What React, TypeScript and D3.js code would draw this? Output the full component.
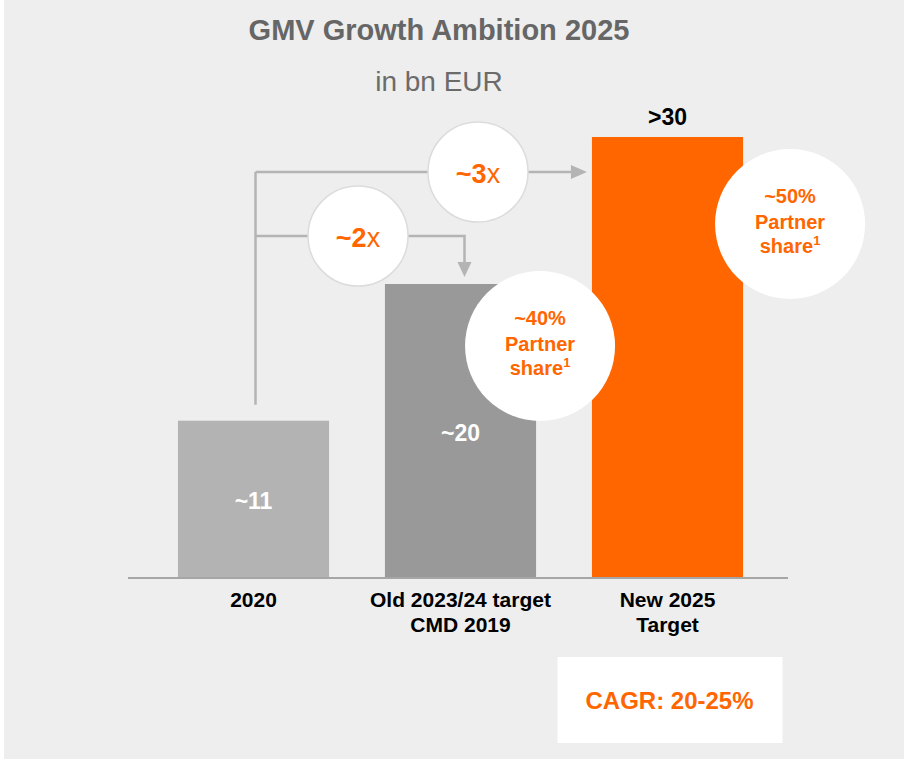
import { useEffect, useRef } from 'react'
import * as d3 from 'd3'

// GMV in bn EUR
const categoryLines = [['2020'], ['Old 2023/24 target', 'CMD 2019'], ['New 2025', 'Target']]
const gmvValues = [10.7, 20, 30]
const valueLabels = ['~11', '~20', '>30']
const partnerShares = [null, '~40%', '~50%']
const multiples = [
  { from: 0, to: 1, label: '~2' },
  { from: 0, to: 2, label: '~3' }
]
const cagrLabel = 'CAGR: 20-25%'

const ORANGE = '#ff6600'
const barColors = ['#b3b3b3', '#999999', ORANGE]
const FONT = '"Liberation Sans", Arial, sans-serif'

const App = () => {
  const svgRef = useRef<SVGSVGElement>(null)

  useEffect(() => {
    if (!svgRef.current) return
    const width = 904
    const height = 760

    d3.select(svgRef.current).selectAll('*').remove()
    const svg = d3.select(svgRef.current)
      .attr('width', width)
      .attr('height', height)
      .style('font-family', FONT)

    // background (thin white strip on the left edge)
    svg.append('rect').attr('width', width).attr('height', height).attr('fill', '#ffffff')
    svg.append('rect').attr('x', 4).attr('width', width - 4).attr('height', height - 1).attr('fill', '#eeeeee')

    const x = d3.scaleBand<number>()
      .domain(d3.range(gmvValues.length))
      .range([150, 771])
      .paddingInner(0.27)
      .paddingOuter(0.135)

    const y = d3.scaleLinear()
      .domain([0, 30])
      .range([578, 137])

    const bw = x.bandwidth()
    const cx = (i: number) => (x(i) as number) + bw / 2

    // title
    svg.append('text')
      .attr('x', 439).attr('y', 40)
      .attr('text-anchor', 'middle')
      .attr('font-size', 29).attr('font-weight', 'bold')
      .attr('fill', '#666666')
      .text('GMV Growth Ambition 2025')
    svg.append('text')
      .attr('x', 439).attr('y', 91)
      .attr('text-anchor', 'middle')
      .attr('font-size', 28)
      .attr('fill', '#6b6b6b')
      .text('in bn EUR')

    // bars
    svg.selectAll('.bar')
      .data(gmvValues)
      .enter()
      .append('rect')
      .attr('class', 'bar')
      .attr('x', (d, i) => x(i) as number)
      .attr('y', d => y(d))
      .attr('width', bw)
      .attr('height', d => y(0) - y(d))
      .attr('fill', (d, i) => barColors[i])

    // baseline
    svg.append('line')
      .attr('x1', 128).attr('x2', 788)
      .attr('y1', y(0)).attr('y2', y(0))
      .attr('stroke', '#a6a6a6').attr('stroke-width', 2)

    // growth connectors
    const lineColor = '#b4b4b4'
    const startX = cx(0) + 2
    const levels = [236, 172]
    const conn = svg.append('g')
      .attr('fill', 'none').attr('stroke', lineColor).attr('stroke-width', 2.5)

    conn.append('line')
      .attr('x1', startX).attr('x2', startX)
      .attr('y1', levels[1]).attr('y2', y(gmvValues[0]) - 16)

    multiples.forEach((m, k) => {
      const ly = levels[k]
      if (m.to === 1) {
        const ex = cx(m.to) + 4
        const tipY = y(gmvValues[m.to]) - 7
        conn.append('path').attr('d', `M${startX},${ly}H${ex}V${tipY - 14}`)
        svg.append('path')
          .attr('d', `M${ex - 7},${tipY - 15}L${ex + 7},${tipY - 15}L${ex},${tipY}Z`)
          .attr('fill', lineColor)
      } else {
        const tipX = (x(m.to) as number) - 5
        conn.append('path').attr('d', `M${startX},${ly}H${tipX - 14}`)
        svg.append('path')
          .attr('d', `M${tipX - 16},${ly - 7}L${tipX - 16},${ly + 7}L${tipX},${ly}Z`)
          .attr('fill', lineColor)
      }
    })

    const multCenters = [358, 478]
    multiples.forEach((m, k) => {
      const mx = multCenters[k]
      const my = levels[k]
      svg.append('circle')
        .attr('cx', mx).attr('cy', my).attr('r', 50)
        .attr('fill', '#ffffff').attr('stroke', '#dcdcdc').attr('stroke-width', 1.5)
      const t = svg.append('text')
        .attr('x', mx).attr('y', my + 11)
        .attr('text-anchor', 'middle')
        .attr('font-size', 27)
        .attr('fill', ORANGE)
      t.append('tspan').attr('font-weight', 'bold').text(m.label)
      t.append('tspan').text('x')
    })

    // partner share bubbles
    const shareOffsets = [null, { dx: 4, dy: 62 }, { dx: 47, dy: 87 }]
    partnerShares.forEach((s, i) => {
      if (!s) return
      const off = shareOffsets[i] as { dx: number, dy: number }
      const bx = (x(i) as number) + bw + off.dx
      const by = y(gmvValues[i]) + off.dy
      svg.append('circle')
        .attr('cx', bx).attr('cy', by).attr('r', 75)
        .attr('fill', '#ffffff')
      const t = svg.append('text')
        .attr('text-anchor', 'middle')
        .attr('font-size', 20).attr('font-weight', 'bold')
        .attr('fill', ORANGE)
      t.append('tspan').attr('x', bx).attr('y', by - 21).text(s)
      t.append('tspan').attr('x', bx).attr('y', by + 5).text('Partner')
      const l3 = t.append('tspan').attr('x', bx).attr('y', by + 29)
      l3.text('share')
      t.append('tspan').attr('font-size', 13).attr('dy', -8).text('1')
    })

    // value labels
    gmvValues.forEach((v, i) => {
      const inside = i < 2
      svg.append('text')
        .attr('x', cx(i))
        .attr('y', inside ? (y(v) + y(0)) / 2 + 10 : y(v) - 12)
        .attr('text-anchor', 'middle')
        .attr('font-size', 23).attr('font-weight', 'bold')
        .attr('fill', inside ? '#ffffff' : '#000000')
        .text(valueLabels[i])
    })

    // category labels
    categoryLines.forEach((lines, i) => {
      const t = svg.append('text')
        .attr('text-anchor', 'middle')
        .attr('font-size', 21).attr('font-weight', 'bold')
        .attr('fill', '#000000')
      lines.forEach((ln, j) => {
        t.append('tspan').attr('x', cx(i)).attr('y', 607 + j * 25).text(ln)
      })
    })

    // CAGR box
    const last = gmvValues.length - 1
    svg.append('rect')
      .attr('x', cx(last) - 110).attr('y', 657)
      .attr('width', 225).attr('height', 86)
      .attr('fill', '#ffffff')
    svg.append('text')
      .attr('x', cx(last) + 2).attr('y', 709)
      .attr('text-anchor', 'middle')
      .attr('font-size', 24).attr('font-weight', 'bold')
      .attr('fill', ORANGE)
      .text(cagrLabel)
  }, [])

  return (
    <div style={{ position: 'absolute', left: 0, top: 0 }}>
      <svg ref={svgRef}></svg>
    </div>
  )
}

export default App
